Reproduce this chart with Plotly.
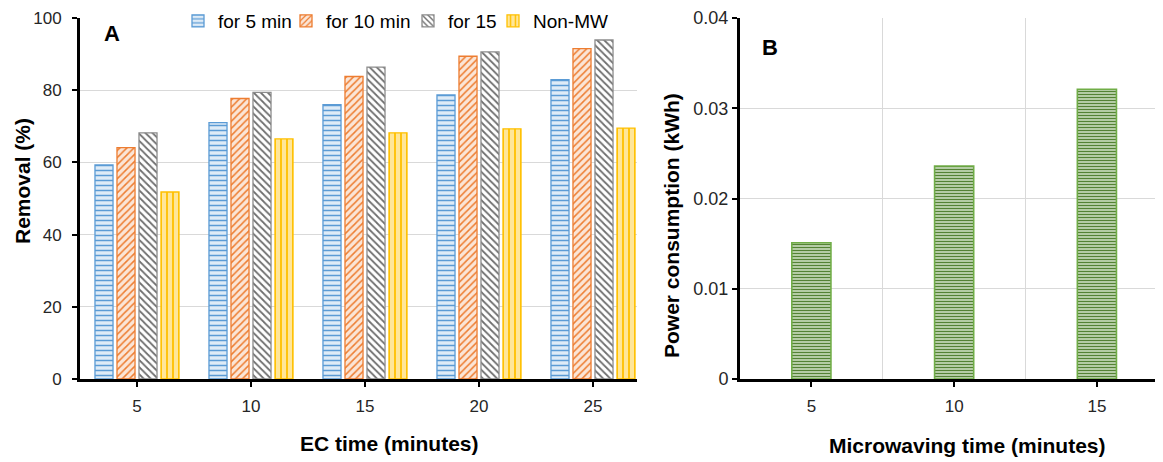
import plotly.graph_objects as go

# ---- data ----
ec_times = ["5", "10", "15", "20", "25"]
series_names = ["for 5 min", "for 10 min", "for 15", "Non-MW"]
mw5 = [59.3, 71.0, 76.0, 78.7, 82.9]
mw10 = [64.1, 77.7, 83.8, 89.4, 91.5]
mw15 = [68.2, 79.4, 86.4, 90.6, 93.9]
non_mw = [51.8, 66.5, 68.2, 69.3, 69.5]

mw_times = ["5", "10", "15"]
power = [0.0151, 0.0236, 0.0321]

FONT = "Liberation Sans, Arial, sans-serif"
OFF = 8                      # page body margin
W, H = 1163 - OFF, 462 - OFF
MT, MB = 18 - OFF, 462 - 379

def px_x(px):
    return (px - OFF) / W

def px_y(py):
    return 1 - (py - OFF - MT) / (H - MT - MB)

fig = go.Figure()

styles = [
    dict(bg="#DEEBF7", fg="#5B9BD5", shape="-", size=5, sol=0.3, line="#5B9BD5"),
    dict(bg="#FBE5D6", fg="#ED7D31", shape="/", size=5, sol=0.3, line="#ED7D31"),
    dict(bg="#FFFFFF", fg="#6E6E6E", shape="\\", size=5, sol=0.35, line="#8C8C8C"),
    dict(bg="#FFE699", fg="#FFC000", shape="|", size=6, sol=0.3, line="#FFC000"),
]
legend_ids = ["legend", "legend2", "legend3", "legend4"]
legend_text_x = [208, 316, 438, 523]   # where each legend label starts (px)

xs = list(range(len(ec_times)))
for name, vals, st, lid in zip(series_names, [mw5, mw10, mw15, non_mw], styles, legend_ids):
    fig.add_trace(go.Bar(
        x=xs, y=vals, name=name, xaxis="x", yaxis="y", legend=lid,
        marker=dict(
            color=st["bg"],
            line=dict(color=st["line"], width=1.3),
            pattern=dict(shape=st["shape"], bgcolor=st["bg"], fgcolor=st["fg"],
                         size=st["size"], solidity=st["sol"], fillmode="replace"),
        ),
    ))

fig.add_trace(go.Bar(
    x=list(range(len(mw_times))), y=power, name="Power", showlegend=False,
    xaxis="x2", yaxis="y2", width=0.274,
    marker=dict(
        color="#E2EFDA",
        line=dict(color="#70AD47", width=1.6),
        pattern=dict(shape="-", bgcolor="#E2EFDA", fgcolor="#548235",
                     size=3, solidity=0.55, fillmode="replace"),
    ),
))

def ax(size=17, **kw):
    d = dict(showline=True, linecolor="black", linewidth=3,
             ticks="outside", tickcolor="black", ticklen=5, tickwidth=2,
             tickfont=dict(family=FONT, size=size, color="#262626"), zeroline=False)
    d.update(kw)
    return d

layout = dict(
    width=W, height=H,
    margin=dict(l=0, r=0, t=MT, b=MB, autoexpand=False),
    plot_bgcolor="white", paper_bgcolor="white",
    barmode="group", bargap=0.228, bargroupgap=0.18,
    font=dict(family=FONT, size=17, color="black"),
    xaxis=ax(domain=[px_x(80), px_x(637)], range=[-0.5, 4.386],
             tickmode="array", tickvals=xs, ticktext=ec_times,
             showgrid=False, ticklabelstandoff=5),
    yaxis=ax(range=[0, 100], tickvals=[0, 20, 40, 60, 80, 100],
             showgrid=True, gridcolor="#D9D9D9", gridwidth=1.3,
             ticklabelstandoff=7, anchor="x"),
    xaxis2=ax(domain=[px_x(740), 1.0], range=[-0.5, 2.463], anchor="y2",
              tickmode="array", tickvals=list(range(len(mw_times))), ticktext=mw_times,
              showgrid=False, ticklabelstandoff=5,
              minor=dict(tickmode="array", tickvals=[0.5, 1.5, 2.5], showgrid=True,
                         gridcolor="#D9D9D9", gridwidth=1.3, ticks="")),
    yaxis2=ax(size=18, range=[0, 0.04], tickvals=[0, 0.01, 0.02, 0.03, 0.04],
              ticktext=["0", "0.01", "0.02", "0.03", "0.04"], anchor="x2",
              showgrid=True, gridcolor="#D9D9D9", gridwidth=1.3),
    showlegend=True,
)
for lid, tx in zip(legend_ids, legend_text_x):
    layout[lid] = dict(orientation="h", x=px_x(tx - 30), xanchor="left",
                       y=px_y(21), yanchor="middle",
                       font=dict(family=FONT, size=19, color="black"),
                       bgcolor="rgba(0,0,0,0)", itemwidth=30)
fig.update_layout(**layout)

annos = [
    dict(text="<b>A</b>", x=112, y=33, size=22, angle=0),
    dict(text="<b>B</b>", x=770, y=47, size=22, angle=0),
    dict(text="<b>Removal (%)</b>", x=22, y=181, size=21, angle=-90),
    dict(text="<b>Power consumption (kWh)</b>", x=671, y=226, size=21, angle=-90),
    dict(text="<b>EC time (minutes)</b>", x=389, y=443, size=21, angle=0),
    dict(text="<b>Microwaving time (minutes)</b>", x=967, y=445, size=21, angle=0),
]
for a in annos:
    fig.add_annotation(text=a["text"], xref="paper", yref="paper", x=px_x(a["x"]), y=px_y(a["y"]),
                       xanchor="center", yanchor="middle", showarrow=False,
                       textangle=a["angle"], font=dict(family=FONT, size=a["size"], color="black"))

fig.write_html("out.html")
